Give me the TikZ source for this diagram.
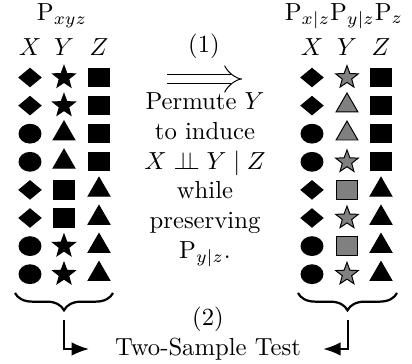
\documentclass[tikz,border=0pt]{standalone}
\usepackage{amsmath, amssymb}
\usepackage{tikz}
\usetikzlibrary{shapes.geometric, arrows.meta, decorations.pathreplacing}
\tikzset{sym/.style={draw=black,fill=black,inner sep=0pt,outer sep=0pt,line width=0.4pt}}
\tikzset{symdia/.style={sym,diamond,minimum width=8.9pt,minimum height=7.4pt}}
\tikzset{symcirc/.style={sym,ellipse,minimum width=8.9pt,minimum height=7.6pt}}
\tikzset{symsq/.style={sym,rectangle,minimum width=8.9pt,minimum height=7.4pt}}
\tikzset{symtri/.style={sym,regular polygon,regular polygon sides=3,minimum size=10.2pt}}
\tikzset{symstar/.style={sym,star,star points=5,star point ratio=2.4,minimum size=9.6pt}}
\tikzset{ebrace/.style={decorate,decoration={brace,mirror,amplitude=7pt},line width=0.9pt}}
\tikzset{econn/.style={-{Latex[length=7pt,width=5.5pt]},line width=0.8pt}}
\tikzset{eimplies/.style={double,double distance=3.6pt,line width=0.4pt,-{Implies}}}

\begin{document}
\begin{tikzpicture}[x=0.405pt,y=-0.405pt]
            \useasboundingbox (0,0) rectangle (412,364);
            % draw the titles and headers
            \node (ltitle) at (62,16) {$\mathrm{P}_{xyz}$};
            \node (rtitle) at (344,16) {$\mathrm{P}_{x|z}\mathrm{P}_{y|z}\mathrm{P}_z$};
            \foreach \c/\xl/\xr in {X/30/312, Y/64/347, Z/99/381} {
                \node (lh\c) at (\xl,47) {$\c$};
                \node (rh\c) at (\xr,47) {$\c$};
            }
            % draw the samples (left: joint, right: permuted)
            \foreach \a/\b/\c/\d [count=\i] in {symdia/symstar/symsq/symstar, symdia/symstar/symsq/symtri,
                    symcirc/symtri/symsq/symtri, symcirc/symtri/symsq/symstar,
                    symdia/symsq/symtri/symsq, symdia/symsq/symtri/symstar,
                    symcirc/symstar/symtri/symsq, symcirc/symstar/symtri/symstar} {
                \node[\a] (lx\i) at (30,{77.5+28.1*(\i-1)}) {};
                \node[\b] (ly\i) at (64,{77.5+28.1*(\i-1)}) {};
                \node[\c] (lz\i) at (99,{77.5+28.1*(\i-1)}) {};
                \node[\a] (rx\i) at (312,{77.5+28.1*(\i-1)}) {};
                \node[\d,fill=gray] (ry\i) at (347,{77.5+28.1*(\i-1)}) {};
                \node[\c] (rz\i) at (381,{77.5+28.1*(\i-1)}) {};
            }
            % draw the permutation step
            \node (step1) at (204,46) {(1)};
            \coordinate (imp1) at (167,79);
            \coordinate (imp2) at (242,79);
            \draw[eimplies] (imp1) -- (imp2);
            \node[align=center] (permute) at (205,180) {Permute $Y$\\ to induce\\ $X \perp\!\!\!\perp Y \mid Z$\\ while\\ preserving\\ $\mathrm{P}_{y|z}$.};
            % draw the braces and the test
            \draw[ebrace] (15,293) -- (113,293);
            \draw[ebrace] (298,293) -- (397,293);
            \coordinate (ltip) at (64,320);
            \coordinate (rtip) at (348,320);
            \node (step2) at (208,319) {(2)};
            \node (test) at (208,349) {Two-Sample Test};
            \draw[econn,shorten >=7pt] (ltip) |- (test.west);
            \draw[econn,shorten >=5.5pt] (rtip) |- (test.east);
        \end{tikzpicture}
\end{document}
